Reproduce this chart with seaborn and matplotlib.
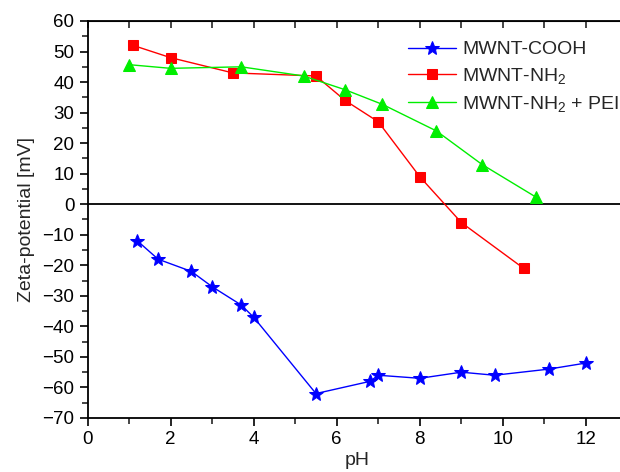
import seaborn as sns
import matplotlib.pyplot as plt
from matplotlib.ticker import MultipleLocator

# Zeta potential vs pH
ph_cooh = [1.2, 1.7, 2.5, 3.0, 3.7, 4.0, 5.5, 6.8, 7.0, 8.0, 9.0, 9.8, 11.1, 12.0]
zeta_cooh = [-12, -18, -22, -27, -33, -37, -62, -58, -56, -57, -55, -56, -54, -52]

ph_nh2 = [1.1, 2.0, 3.5, 5.5, 6.2, 7.0, 8.0, 9.0, 10.5]
zeta_nh2 = [52, 48, 43, 42, 34, 27, 9, -6, -21]

ph_pei = [1.0, 2.0, 3.7, 5.2, 6.2, 7.1, 8.4, 9.5, 10.8]
zeta_pei = [45.7, 44.5, 45, 42, 37.5, 32.7, 24, 13, 2.3]

labels = ["MWNT-COOH", "MWNT-NH$_2$", "MWNT-NH$_2$ + PEI"]

sns.set_style("white")
plt.rcParams['font.family'] = ['Liberation Sans', 'DejaVu Sans']
plt.rcParams['mathtext.fontset'] = 'custom'
plt.rcParams['mathtext.rm'] = 'Liberation Sans'
plt.rcParams['mathtext.default'] = 'regular'

fig = plt.figure(figsize=(6.2, 4.72), dpi=100)
# right spine falls just outside the picture, as in the reference
ax = fig.add_axes([87.5 / 620, 54 / 472, 540 / 620, 397 / 472])

sns.lineplot(x=ph_cooh, y=zeta_cooh, ax=ax, color="#0000ff", marker="*",
             markersize=10, markeredgecolor="#0000ff", linewidth=1, label=labels[0])
sns.lineplot(x=ph_nh2, y=zeta_nh2, ax=ax, color="#ff0000", marker="s",
             markersize=7, markeredgecolor="#ff0000", linewidth=1, label=labels[1])
sns.lineplot(x=ph_pei, y=zeta_pei, ax=ax, color="#00ee00", marker="^",
             markersize=8, markeredgecolor="#00ee00", linewidth=1, label=labels[2])

ax.axhline(0, color="black", linewidth=1.3, zorder=1)

ax.set_xlim(0, 13)
ax.set_ylim(-70, 60)
ax.xaxis.set_major_locator(MultipleLocator(2))
ax.xaxis.set_minor_locator(MultipleLocator(1))
ax.yaxis.set_major_locator(MultipleLocator(10))
ax.yaxis.set_minor_locator(MultipleLocator(5))
ax.tick_params(which='major', direction='out', length=6, width=1.2, labelsize=13.5,
               left=True, bottom=True, colors='black')
ax.tick_params(which='minor', direction='out', length=4, width=1.2, left=True, bottom=True)
for s in ax.spines.values():
    s.set_linewidth(1.3)
    s.set_color("black")

top = ax.secondary_xaxis('top')
top.xaxis.set_major_locator(MultipleLocator(2))
top.xaxis.set_minor_locator(MultipleLocator(1))
top.tick_params(which='both', direction='in', length=5, width=1.2, labeltop=False)
right = ax.secondary_yaxis('right')
right.yaxis.set_major_locator(MultipleLocator(10))
right.tick_params(which='major', direction='in', length=5, width=1.2, labelright=False)

ax.set_xlabel("pH", fontsize=14, labelpad=3)
ax.set_ylabel("Zeta-potential [mV]", fontsize=14, labelpad=5)

ax.legend(loc='upper left', bbox_to_anchor=(398 / 620, 1 - 31 / 472),
          bbox_transform=fig.transFigure, frameon=False, fontsize=14,
          handlelength=2.5, handletextpad=0.3, labelspacing=0.4, borderpad=0)

fig.savefig("out.png", dpi=100)
